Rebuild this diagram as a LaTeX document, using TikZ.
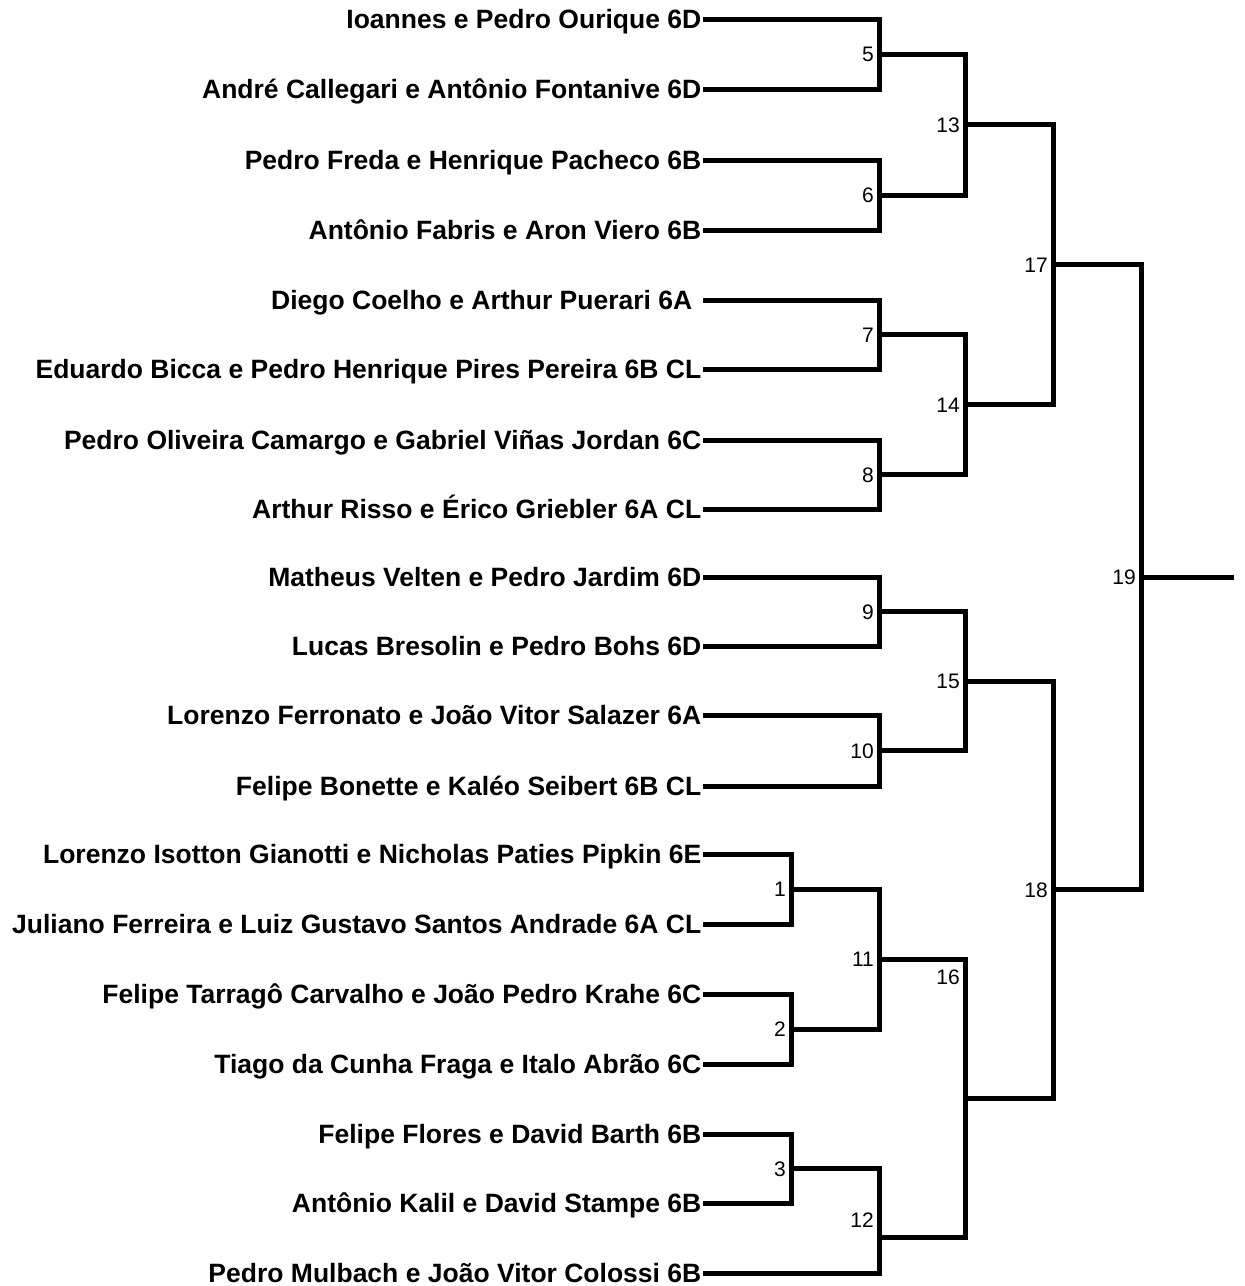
\documentclass[tikz,border=0pt]{standalone}
\usepackage{fontspec}
\setmainfont{Liberation Sans}

\tikzset{
  team/.style={font=\bfseries\fontsize{26.5}{30}\selectfont, anchor=east,
    inner xsep=1.5pt, inner ysep=0pt, text height=19pt, text depth=0pt},
  num/.style={font=\fontsize{21}{24}\selectfont, anchor=east,
    inner sep=0pt, text height=15pt, text depth=0pt},
  bracket/.style={line width=5pt, line join=miter}
}

\begin{document}
\begin{tikzpicture}[x=1pt, y=-1pt]
    \useasboundingbox (0,0) rectangle (1245,1286);

    % Teams
    \node[team] (t1) at (703,19) {Ioannes e Pedro Ourique 6D};
    \node[team] (t2) at (703,89) {André Callegari e Antônio Fontanive 6D};
    \node[team] (t3) at (703,160) {Pedro Freda e Henrique Pacheco 6B};
    \node[team] (t4) at (703,230) {Antônio Fabris e Aron Viero 6B};
    \node[team] (t5) at (703,300) {Diego Coelho e Arthur Puerari 6A\kern9pt};
    \node[team] (t6) at (703,369) {Eduardo Bicca e Pedro Henrique Pires Pereira 6B CL};
    \node[team] (t7) at (703,440) {Pedro Oliveira Camargo e Gabriel Viñas Jordan 6C};
    \node[team] (t8) at (703,509) {Arthur Risso e Érico Griebler 6A CL};
    \node[team] (t9) at (703,577) {Matheus Velten e Pedro Jardim 6D};
    \node[team] (t10) at (703,646) {Lucas Bresolin e Pedro Bohs 6D};
    \node[team] (t11) at (703,715) {Lorenzo Ferronato e João Vitor Salazer 6A};
    \node[team] (t12) at (703,786) {Felipe Bonette e Kaléo Seibert 6B CL};
    \node[team] (t13) at (703,854) {Lorenzo Isotton Gianotti e Nicholas Paties Pipkin 6E};
    \node[team] (t14) at (703,924) {Juliano Ferreira e Luiz Gustavo Santos Andrade 6A CL};
    \node[team] (t15) at (703,994) {Felipe Tarragô Carvalho e João Pedro Krahe 6C};
    \node[team] (t16) at (703,1064) {Tiago da Cunha Fraga e Italo Abrão 6C};
    \node[team] (t17) at (703,1134) {Felipe Flores e David Barth 6B};
    \node[team] (t18) at (703,1203) {Antônio Kalil e David Stampe 6B};
    \node[team] (t19) at (703,1273) {Pedro Mulbach e João Vitor Colossi 6B};

    % Match points
    \coordinate (m1) at (791,889);
    \coordinate (m2) at (791,1029);
    \coordinate (m3) at (791,1168.5);
    \coordinate (m5) at (879,54);
    \coordinate (m6) at (879,195);
    \coordinate (m7) at (879,334.5);
    \coordinate (m8) at (879,474.5);
    \coordinate (m9) at (879,611.5);
    \coordinate (m10) at (879,750.5);
    \coordinate (m11) at (879,959);
    \coordinate (m12) at (879,1237);
    \coordinate (m13) at (965,124.5);
    \coordinate (m14) at (965,404.5);
    \coordinate (m15) at (965,681);
    \coordinate (m16) at (965,1098);
    \coordinate (m17) at (1053,264.5);
    \coordinate (m18) at (1053,889.5);
    \coordinate (m19) at (1141,577);
    \coordinate (champ) at (1234,577);

    % First matches
    \draw[bracket] (t1.east) -| (m5) |- (t2.east);
    \draw[bracket] (t3.east) -| (m6) |- (t4.east);
    \draw[bracket] (t5.east) -| (m7) |- (t6.east);
    \draw[bracket] (t7.east) -| (m8) |- (t8.east);
    \draw[bracket] (t9.east) -| (m9) |- (t10.east);
    \draw[bracket] (t11.east) -| (m10) |- (t12.east);
    \draw[bracket] (t13.east) -| (m1) |- (t14.east);
    \draw[bracket] (t15.east) -| (m2) |- (t16.east);
    \draw[bracket] (t17.east) -| (m3) |- (t18.east);

    % Next rounds
    \draw[bracket] (m1) -| (m11) |- (m2);
    \draw[bracket] (m3) -| (m12) |- (t19.east);
    \draw[bracket] (m5) -| (m13) |- (m6);
    \draw[bracket] (m7) -| (m14) |- (m8);
    \draw[bracket] (m9) -| (m15) |- (m10);
    \draw[bracket] (m11) -| (m16) |- (m12);
    \draw[bracket] (m13) -| (m17) |- (m14);
    \draw[bracket] (m15) -| (m18) |- (m16);
    \draw[bracket] (m17) -| (m19) |- (m18);
    \draw[bracket] (m19) -- (champ);

    % Match numbers
    \node[num] (n1) at (786,889) {1};
    \node[num] (n2) at (786,1029) {2};
    \node[num] (n3) at (786,1168.5) {3};
    \node[num] (n5) at (874,54) {5};
    \node[num] (n6) at (874,195) {6};
    \node[num] (n7) at (874,334.5) {7};
    \node[num] (n8) at (874,474.5) {8};
    \node[num] (n9) at (874,611.5) {9};
    \node[num] (n10) at (874,750.5) {10};
    \node[num] (n11) at (874,959) {11};
    \node[num] (n12) at (874,1220) {12};
    \node[num] (n13) at (960,124.5) {13};
    \node[num] (n14) at (960,404.5) {14};
    \node[num] (n15) at (960,681) {15};
    \node[num] (n16) at (960,977) {16};
    \node[num] (n17) at (1048,264.5) {17};
    \node[num] (n18) at (1048,889.5) {18};
    \node[num] (n19) at (1136,577) {19};
\end{tikzpicture}
\end{document}
